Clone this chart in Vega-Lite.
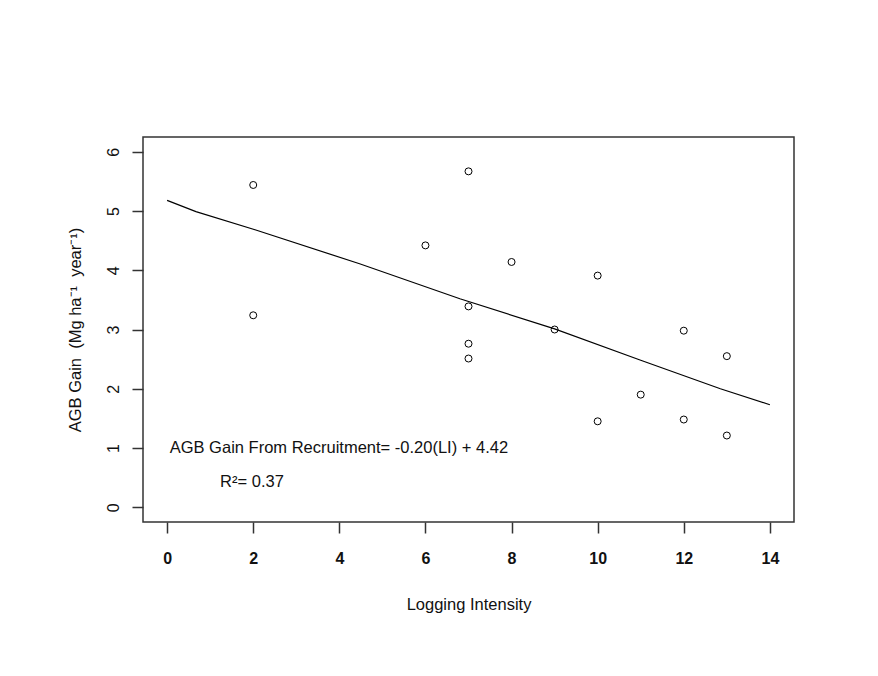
{
  "$schema": "https://vega.github.io/schema/vega-lite/v6.json",
  "width": 651,
  "height": 385,
  "autosize": {"type": "none"},
  "padding": {"left": 143, "top": 137, "right": 84, "bottom": 154},
  "background": "white",
  "config": {
    "font": "Liberation Sans",
    "view": {"stroke": "#333333", "strokeWidth": 1.5}
  },
  "datasets": {
    "points": [
      {"x": 2, "y": 5.44}, {"x": 2, "y": 3.24}, {"x": 6, "y": 4.42},
      {"x": 7, "y": 5.67}, {"x": 7, "y": 3.39}, {"x": 7, "y": 2.76}, {"x": 7, "y": 2.51},
      {"x": 8, "y": 4.14}, {"x": 9, "y": 3.0}, {"x": 10, "y": 3.91}, {"x": 10, "y": 1.45},
      {"x": 11, "y": 1.9}, {"x": 12, "y": 2.98}, {"x": 12, "y": 1.48},
      {"x": 13, "y": 2.55}, {"x": 13, "y": 1.21}
    ],
    "fit": [
      {"x": 0, "y": 5.18}, {"x": 0.67, "y": 4.99}, {"x": 2.06, "y": 4.68},
      {"x": 4.47, "y": 4.11}, {"x": 6.8, "y": 3.52}, {"x": 9.0, "y": 3.01},
      {"x": 11.0, "y": 2.48}, {"x": 12.85, "y": 2.0}, {"x": 14, "y": 1.73}
    ],
    "notes": [
      {"x": 0.06, "y": 1.0, "label": "AGB Gain From Recruitment= -0.20(LI) + 4.42"},
      {"x": 1.23, "y": 0.43, "label": "R²= 0.37"}
    ]
  },
  "encoding": {
    "x": {
      "field": "x", "type": "quantitative",
      "scale": {"domain": [-0.56, 14.56], "nice": false, "zero": false},
      "axis": {
        "title": "Logging Intensity",
        "values": [0, 2, 4, 6, 8, 10, 12, 14],
        "domain": false, "grid": false,
        "tickSize": 11, "tickColor": "#333333", "tickWidth": 1.5,
        "labelFontSize": 16, "labelFontWeight": "bold", "labelColor": "#111111", "labelPadding": 17,
        "titleFontSize": 16.5, "titleFontWeight": "normal", "titleColor": "#111111", "titlePadding": 30
      }
    },
    "y": {
      "field": "y", "type": "quantitative",
      "scale": {"domain": [-0.25, 6.25], "nice": false, "zero": false},
      "axis": {
        "title": "AGB Gain\u00a0\u00a0(Mg ha⁻¹\u00a0\u00a0year⁻¹)",
        "values": [0, 1, 2, 3, 4, 5, 6],
        "domain": false, "grid": false,
        "tickSize": 11, "tickColor": "#333333", "tickWidth": 1.5,
        "labelAngle": -90, "labelAlign": "center", "labelBaseline": "alphabetic",
        "labelFontSize": 16, "labelColor": "#111111", "labelPadding": 14,
        "titleFontSize": 16.5, "titleFontWeight": "normal", "titleColor": "#111111", "titlePadding": 22
      }
    }
  },
  "layer": [
    {
      "data": {"name": "fit"},
      "mark": {"type": "line", "color": "black", "strokeWidth": 1.2},
      "encoding": {}
    },
    {
      "data": {"name": "points"},
      "mark": {"type": "point", "shape": "circle", "filled": false, "color": "black", "size": 49, "strokeWidth": 1, "opacity": 1},
      "encoding": {}
    },
    {
      "data": {"name": "notes"},
      "mark": {"type": "text", "align": "left", "baseline": "middle", "fontSize": 16.5, "color": "#111111"},
      "encoding": {"text": {"field": "label"}}
    }
  ]
}
